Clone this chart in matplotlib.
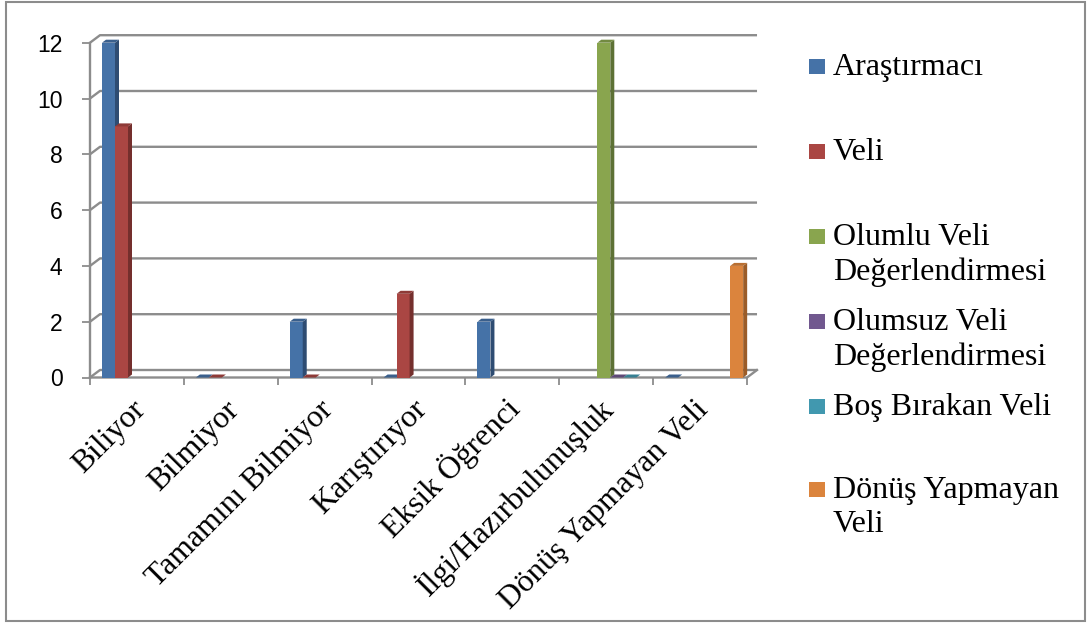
import numpy as np
import matplotlib
matplotlib.use('Agg')
import matplotlib.pyplot as plt
from matplotlib.patches import Polygon, Rectangle

# ---- data ----
categories = ['Biliyor', 'Bilmiyor', 'Tamamını Bilmiyor', 'Karıştırıyor',
              'Eksik Öğrenci', 'İlgi/Hazırbulunuşluk', 'Dönüş Yapmayan Veli']
series_names = ['Araştırmacı', 'Veli', 'Olumlu Veli Değerlendirmesi',
                'Olumsuz Veli Değerlendirmesi', 'Boş Bırakan Veli', 'Dönüş Yapmayan Veli']
legend_lines = [['Araştırmacı'], ['Veli'], ['Olumlu Veli', 'Değerlendirmesi'],
                ['Olumsuz Veli', 'Değerlendirmesi'], ['Boş Bırakan Veli'],
                ['Dönüş Yapmayan', 'Veli']]
nan = np.nan
arastirmaci = [12, 0, 2, 0, 2, nan, 0]
veli = [9, 0, 0, 3, nan, nan, nan]
olumlu = [nan, nan, nan, nan, nan, 12, nan]
olumsuz = [nan, nan, nan, nan, nan, 0, nan]
bos = [nan, nan, nan, nan, nan, 0, nan]
donus = [nan, nan, nan, nan, nan, nan, 4]
series = [arastirmaci, veli, olumlu, olumsuz, bos, donus]
y_ticks = [0, 2, 4, 6, 8, 10, 12]

front_colors = ['#4572A7', '#AA4643', '#89A54E', '#71588F', '#4198AF', '#DB843D']
side_colors = ['#2E4C72', '#742F2D', '#5D7135', '#4C3B61', '#2B6777', '#9B5C28']
top_colors = ['#3A5F8C', '#8E3A37', '#728A41', '#5E4977', '#357F92', '#B96F32']
grid_col = '#8C8C8C'

W, H = 1088, 624
fig = plt.figure(figsize=(W / 100, H / 100), dpi=100)

# plot area geometry in pixels
x_left, x_right = 90, 760
y_zero, y_top = 377.5, 30
cat_px = 93.86
unit_px = 27.9

ax = fig.add_axes([x_left / W, 1 - y_zero / H, (x_right - x_left) / W, (y_zero - y_top) / H])
ax.set_xlim(0, (x_right - x_left) / cat_px)
ax.set_ylim(0, (y_zero - y_top) / unit_px)
for s in ax.spines.values():
    s.set_visible(False)

n = len(categories)
wall_dx, wall_dy = 10 / cat_px, 7.5 / unit_px

# back wall gridlines with the short diagonal on the side wall
for v in y_ticks:
    ax.plot([0, wall_dx, n + wall_dx], [v, v + wall_dy, v + wall_dy],
            color=grid_col, lw=1.7, zorder=1, clip_on=False, solid_capstyle='butt')
# floor front edge, right edge and the front vertical axis
ax.plot([0, n, n + wall_dx], [0, 0, wall_dy], color=grid_col, lw=1.7, zorder=1, clip_on=False)
ax.plot([0, 0], [0, y_ticks[-1]], color=grid_col, lw=1.7, zorder=1, clip_on=False)

# 3d-looking bars: front face, side face and top
bar_w = 13 / cat_px
bar_x0 = 12 / cat_px
dx, dy = 4 / cat_px, 3 / unit_px
for i in range(n):
    for j, vals in enumerate(series):
        v = vals[i]
        if np.isnan(v):
            continue
        x = i + bar_x0 + j * bar_w
        ax.bar(x, v, width=bar_w, align='edge', color=front_colors[j], lw=0, zorder=3)
        side = Polygon([(x + bar_w, 0), (x + bar_w + dx, dy), (x + bar_w + dx, v + dy), (x + bar_w, v)],
                       closed=True, fc=side_colors[j], ec='none', zorder=3)
        top = Polygon([(x, v), (x + bar_w, v), (x + bar_w + dx, v + dy), (x + dx, v + dy)],
                      closed=True, fc=top_colors[j], ec='none', zorder=3)
        ax.add_patch(side)
        ax.add_patch(top)

# axes ticks
ax.set_yticks(y_ticks)
ax.set_yticklabels([str(t) for t in y_ticks], fontsize=16.5, family='Liberation Sans')
ax.tick_params(axis='y', length=5.8, width=1.3, color=grid_col, pad=14)
ax.set_xticks(np.arange(n + 1))
ax.set_xticklabels([])
ax.tick_params(axis='x', length=5, width=1.3, color=grid_col)

for i, cat in enumerate(categories):
    ax.text(i + 0.60, -1.19, cat, rotation=45, ha='right', va='baseline',
            rotation_mode='anchor', fontsize=22.8, family='Liberation Serif', clip_on=False)

# legend drawn by hand: swatch aligned with the first text line
first_baselines = [75, 160, 245, 330, 415, 498]
line_gap = 34.5
for k, lines in enumerate(legend_lines):
    b = first_baselines[k]
    fig.add_artist(Rectangle((809 / W, 1 - (b - 1) / H), 16 / W, 15 / H,
                             transform=fig.transFigure, fc=front_colors[k], ec='none'))
    for m, line in enumerate(lines):
        fig.text(833 / W, 1 - (b + m * line_gap) / H, line, fontsize=23,
                 family='Liberation Serif', va='baseline', ha='left')

# chart frame
fig.add_artist(Rectangle((6 / W, 1 - 621 / H), (1085 - 6) / W, (621 - 2) / H,
                         transform=fig.transFigure, fill=False, ec='#8C8C8C', lw=1.5))

fig.savefig('out.png', dpi=100)
